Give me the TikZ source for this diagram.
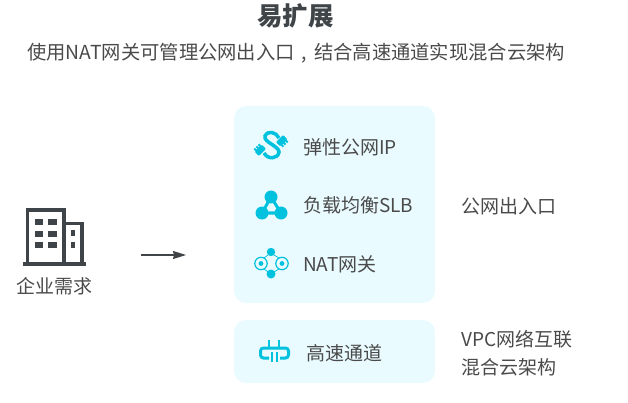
\documentclass[tikz,border=0pt]{standalone}
\usepackage{fontspec}
\setmainfont{Noto Sans CJK SC}
\usetikzlibrary{positioning}
\usetikzlibrary{arrows.meta}
\definecolor{textgray}{HTML}{4A4A4A}
\definecolor{darkgray}{HTML}{3F4448}
\definecolor{panelblue}{HTML}{E9FBFF}
\definecolor{iconblue}{HTML}{00C1DE}
\tikzset{
    panel/.style={fill=panelblue, rounded corners=12pt, minimum width=201pt, inner sep=0pt},
    label/.style={anchor=west, inner sep=0pt, text=textgray, font=\fontsize{19}{23}\selectfont},
    iconline/.style={draw=iconblue, line width=3pt}
}
\begin{document}
\begin{tikzpicture}[x=1pt, y=-1pt]
    \useasboundingbox (0,0) rectangle (628,403);

    % Title
    \node[inner sep=0pt, text=darkgray, font=\fontsize{25.5}{29}\selectfont\bfseries] (title) at (295.5,16) {易扩展};
    \node[label, font=\fontsize{19.3}{23}\selectfont] (subtitle) at (27,53) {使用NAT网关可管理公网出入口\hspace{.36em},\hspace{.36em}结合高速通道实现混合云架构};

    % Panels
    \node[panel, minimum height=197pt] (mainpanel) at (334.5,204.5) {};
    \node[panel, minimum height=63pt] (linkpanel) at (334.5,351.5) {};

    % Panel labels
    \node[label] (eip) at (303,147) {弹性公网IP};
    \node[label] (slb) at (303,205) {负载均衡SLB};
    \node[label] (nat) at (303,264) {NAT网关};
    \node[label] (express) at (306,353) {高速通道};

    % Right labels
    \node[label] (inout) at (461.5,206) {公网出入口};
    \node[label] (vpc) at (461.5,339) {VPC网络互联};
    \node[label] (hybrid) at (461.5,367) {混合云架构};

    % Building
    \draw[darkgray, line width=3.5pt] (27.5,264) -- (27.5,210) -- (64,210) -- (64,264);
    \draw[darkgray, line width=3.5pt] (64,223.5) -- (82,223.5) -- (82,264);
    \draw[darkgray, line width=4pt] (23,264) -- (86,264);
    \foreach \y in {219,231,242} {
        \fill[darkgray] (35,\y) rectangle (43,\y+6);
        \fill[darkgray] (48,\y) rectangle (57,\y+6);
    }
    \foreach \y in {230,242} {
        \fill[darkgray] (71,\y) rectangle (75,\y+6);
    }
    \node[label, anchor=center] (demand) at (54.5,286) {企业需求};

    % Arrow
    \coordinate (arrowstart) at (141,255);
    \coordinate (arrowend) at (186,255);
    \draw[darkgray, line width=1.2pt, -{Stealth[length=13pt, width=8pt, inset=1pt]}] (arrowstart) -- (arrowend);

    % Plug icon
    \draw[iconline, line width=3.5pt] (279,138) .. controls (276,132) and (268,130) .. (265,136)
        .. controls (263,142) and (279,146) .. (279,152)
        .. controls (278,159) and (268,160) .. (264,153);
    \foreach \a/\b/\r in {282/141/-45, 260/150/135} {
        \begin{scope}[shift={(\a,\b)}, rotate=\r]
            \fill[iconblue, rounded corners=1pt] (-3.5,-5) rectangle (2.5,5);
            \draw[iconblue, line width=1.8pt] (2,-3) -- (5,-3) (2,0) -- (5,0) (2,3) -- (5,3);
        \end{scope}
    }

    % Balancer icon
    \draw[iconline] (271,197) -- (262,213) -- (281,213) -- cycle;
    \fill[iconblue] (271,197) circle (6.5) (262,213) circle (6.5) (281,213) circle (6.5);

    % Gateway icon
    \fill[iconblue] (271,252) circle (4.2) (271,274) circle (4.5);
    \foreach \a in {261,282} {
        \draw[iconblue, line width=1.2pt] (\a,263.5) circle (6.2);
        \fill[iconblue] (\a,263.5) circle (2.4);
    }
    \draw[iconblue, line width=0.7pt] (268,255) -- (264,258) (274,255) -- (279,258) (268,272) -- (264,269) (274,272) -- (279,269);

    % Tunnel icon
    \draw[iconblue, line width=3pt, rounded corners=3pt] (275,348) -- (260.5,348) -- (260.5,358) -- (269,358);
    \draw[iconblue, line width=3pt, rounded corners=3pt] (275,348) -- (288.5,348) -- (288.5,358) -- (280,358);
    \draw[iconblue, line width=2.2pt] (269,340) -- (269,347) (279,340) -- (279,347)
        (272,352) -- (272,362) (277,352) -- (277,362);
\end{tikzpicture}
\end{document}
